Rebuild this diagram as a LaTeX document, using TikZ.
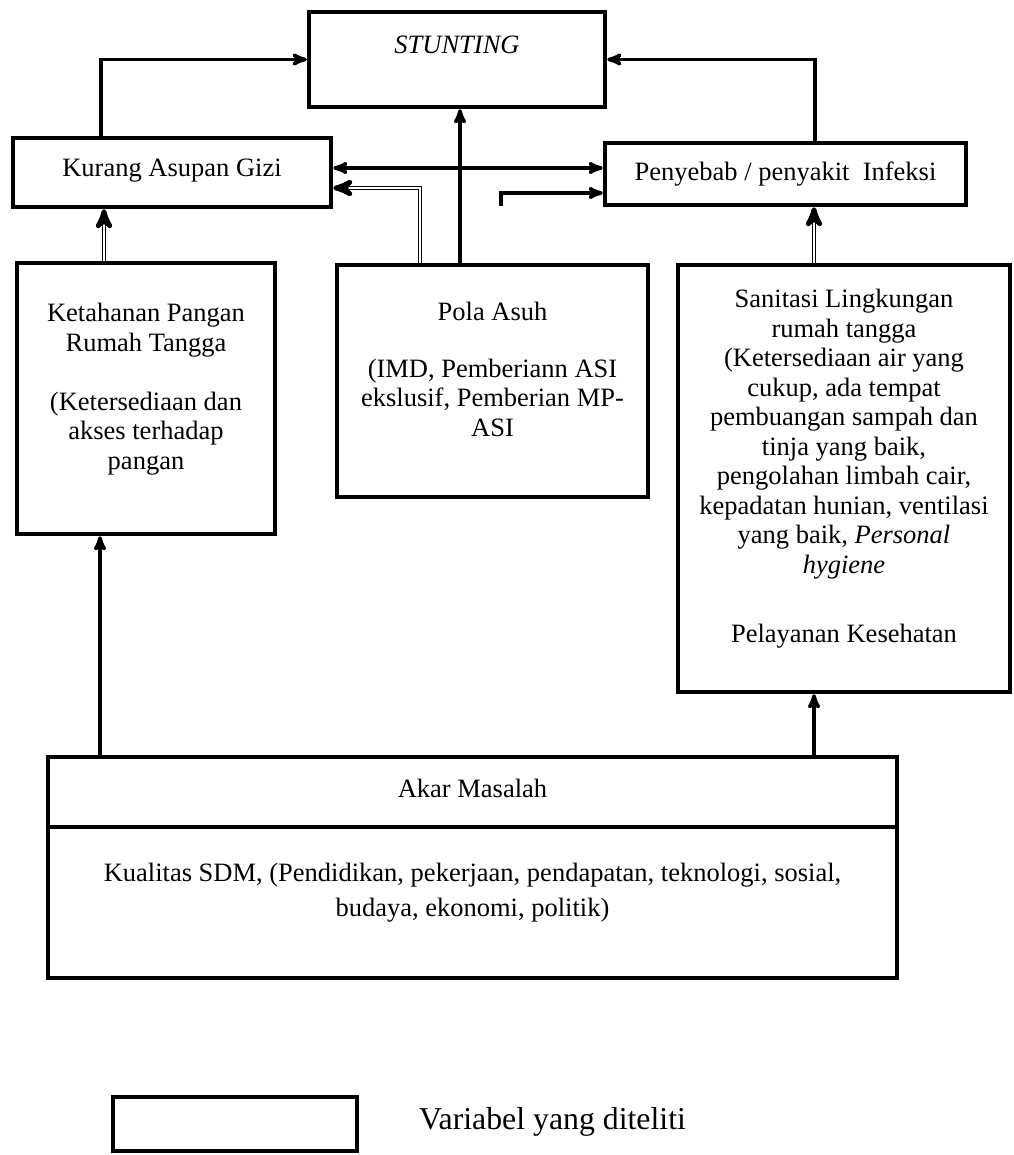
\documentclass[tikz,border=0pt]{standalone}
\usepackage{fontspec}
\setmainfont{Liberation Serif}
\usetikzlibrary{arrows}

\begin{document}
\begin{tikzpicture}[x=1pt,y=-1pt,
  box/.style={draw,line width=4.5pt,fill=white,inner sep=0pt,align=center,
    font=\fontsize{26.5}{29.5}\selectfont},
  arr/.style={->,line width=3.5pt,>=stealth'},
  dbl/.style={->,double,double distance=2.5pt,line width=1.2pt,>=stealth'}]
\useasboundingbox (0,0) rectangle (1013,1155);

\node[box,minimum width=296pt,minimum height=95pt,text height=20pt,text depth=31pt] (stunting) at (457,59.5) {\textit{STUNTING}};
\node[box,minimum width=318pt,minimum height=69pt,text depth=9pt] (kurang) at (172,172.5) {Kurang Asupan Gizi};
\node[box,minimum width=361pt,minimum height=62pt] (infeksi) at (785.5,174) {Penyebab / penyakit~ Infeksi};

\node[box,minimum width=258pt,minimum height=271pt,text depth=24pt] (pangan) at (146,398.5) {Ketahanan Pangan\\Rumah Tangga\\[29.5pt](Ketersediaan dan\\akses terhadap\\pangan};
\node[box,minimum width=311pt,minimum height=232pt,text depth=24pt] (pola) at (492.5,381) {Pola Asuh\\[27.5pt](IMD, Pemberiann ASI\\ekslusif, Pemberian MP-\\ASI};
\node[box,minimum width=332pt,minimum height=427pt,text depth=25pt] (sanitasi) at (844,478.5) {Sanitasi Lingkungan\\rumah tangga\\(Ketersediaan air yang\\cukup, ada tempat\\pembuangan sampah dan\\tinja yang baik,\\pengolahan limbah cair,\\kepadatan hunian, ventilasi\\yang baik, \textit{Personal}\\\textit{hygiene}\\[40pt]Pelayanan Kesehatan};

\node[box,minimum width=849pt,minimum height=70pt,text depth=8pt] (akar) at (472.5,792) {Akar Masalah};
\node[box,minimum width=849pt,minimum height=151pt,text depth=26pt,font=\fontsize{26.5}{35}\selectfont] (kualitas) at (472.5,902.5) {Kualitas SDM, (Pendidikan, pekerjaan, pendapatan, teknologi, sosial,\\budaya, ekonomi, politik)};

\node[box,minimum width=244pt,minimum height=54pt] (legend) at (235,1124) {};
\node[font=\fontsize{31.8}{36}\selectfont,anchor=west,inner sep=0pt] (legendtext) at (419,1122) {Variabel yang diteliti};

\coordinate (stub) at (501,206);
\draw[arr] (kurang.north -| 101,0) |- (stunting.west);
\draw[arr] (infeksi.north -| 815,0) |- (stunting.east);
\draw[arr] (pola.north -| 460,0) -- (stunting.south -| 460,0);
\draw[arr,<->] (kurang.east |- 0,168) -- (infeksi.west |- 0,168);
\draw[dbl] (pola.north -| 420,0) |- (kurang.east |- 0,188);
\draw[arr] (stub) |- (infeksi.west |- 0,193);
\draw[dbl] (pangan.north -| 104,0) -- (kurang.south -| 104,0);
\draw[dbl] (sanitasi.north -| 814,0) -- (infeksi.south -| 814,0);
\draw[arr] (akar.north -| 100,0) -- (pangan.south -| 100,0);
\draw[arr] (akar.north -| 814,0) -- (sanitasi.south -| 814,0);
\end{tikzpicture}
\end{document}
